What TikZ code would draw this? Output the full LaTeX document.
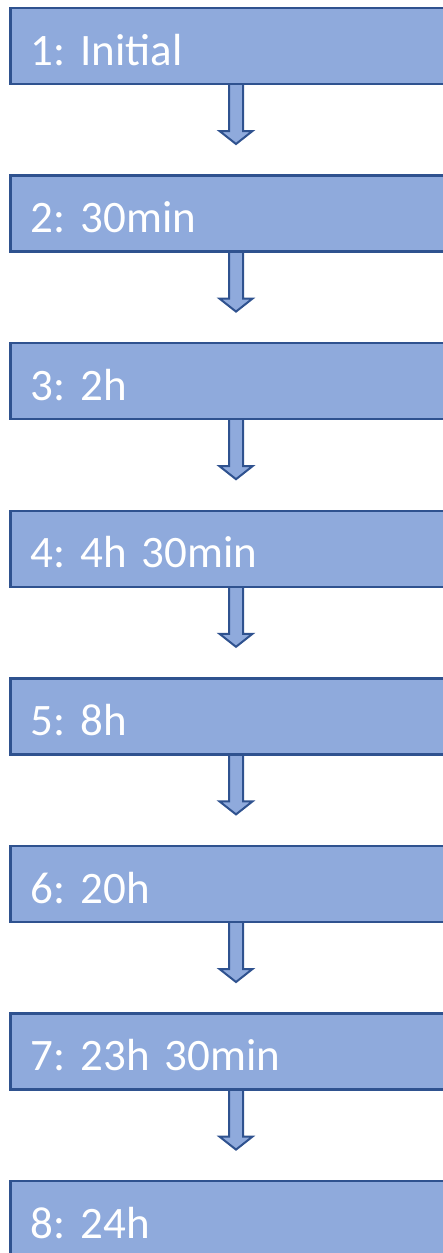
\documentclass[tikz,border=0pt]{standalone}
\usepackage{fontspec}
\setmainfont{Carlito}
\usetikzlibrary{positioning}

\definecolor{stepfill}{HTML}{8FAADC}
\definecolor{stepline}{HTML}{2F528F}

\begin{document}
\begin{tikzpicture}[x=1pt,y=-1pt,
	stepbox/.style={draw=stepline, fill=stepfill, line width=2.5pt,
		anchor=north west, outer sep=0pt, minimum height=76pt,
		text width=560pt, inner xsep=20pt, inner ysep=0pt,
		text height=38pt, text depth=0pt, align=left,
		text=white, font=\fontsize{45}{54}\selectfont\frenchspacing},
	blockarrow/.style={draw=stepline, fill=stepfill, line width=2pt, line join=miter}]
	% page size, the boxes run on past the right edge
	\useasboundingbox (0,0) rectangle (442,1253);

	% block arrows first so the boxes sit on top of them
	\foreach \i in {1,...,7}{
		\coordinate (a\i) at (236, {84+(\i-1)*167.6});
		\draw[blockarrow] ([xshift=-7pt]a\i) -- ++(0,47) -- ++(-9.5,0) -- ++(16.5,13)
			-- ++(16.5,-13) -- ++(-9.5,0) -- ++(0,-47);
	}

	% the eight time steps
	\foreach \t [count=\i] in {1: Initial, 2: 30min, 3: 2h, 4: 4h 30min,
		5: 8h, 6: 20h, 7: 23h 30min, 8: 24h}{
		\node[stepbox] (step\i) at (10.7, {8+(\i-1)*167.6}) {\t};
	}
\end{tikzpicture}
\end{document}
